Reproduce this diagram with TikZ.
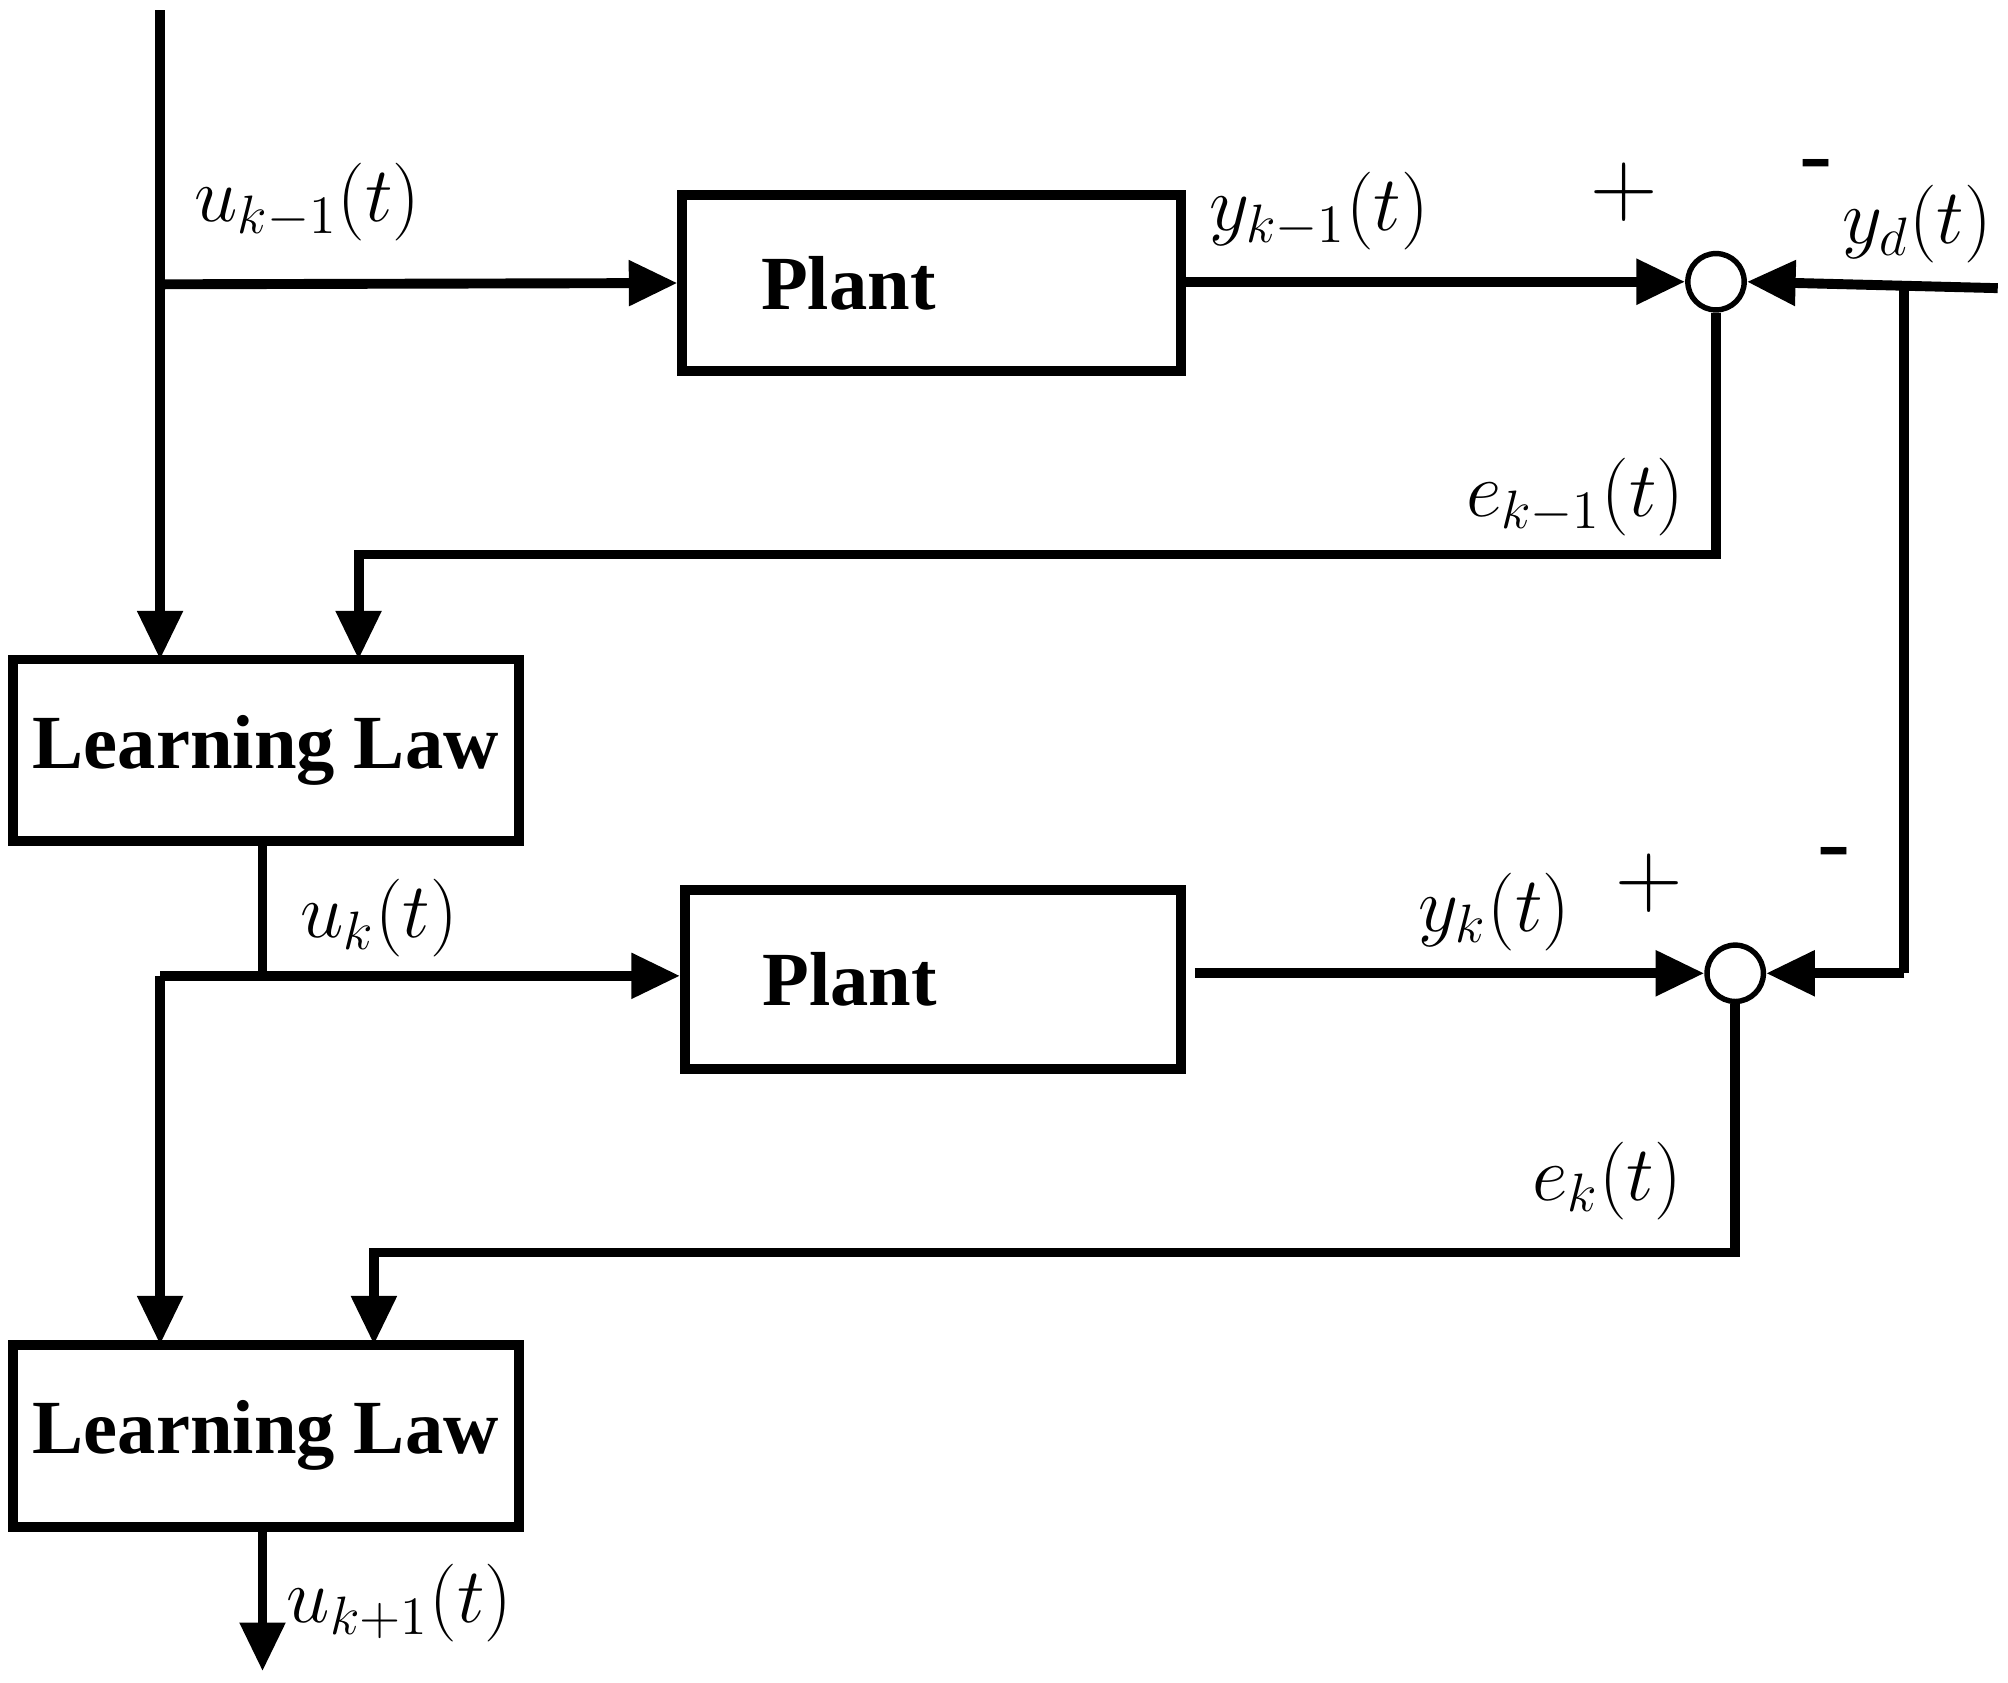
\documentclass[tikz,border=0pt]{standalone}
\usepackage{fontspec}
\setmainfont{Liberation Serif}
\usepackage{amsmath}
\usetikzlibrary{arrows.meta}
\usetikzlibrary{positioning}

\tikzset{
  blk/.style = {draw, line width=2.2pt, inner sep=0pt, font=\fontsize{17}{20}\selectfont\bfseries},
  sumc/.style = {draw, line width=1.2pt, circle, minimum size=0.44cm, inner sep=0pt},
  sig/.style = {line width=2.2pt},
  arr/.style = {sig, -{Triangle[length=0.38cm, width=0.34cm]}},
  lbl/.style = {font=\fontsize{17}{20}\selectfont},
  sgn/.style = {font=\fontsize{22}{24}\selectfont}
}

\begin{document}
\begin{tikzpicture}[x=0.01cm, y=-0.01cm]
  \useasboundingbox (0,0) rectangle (1568,1314);

  % blocks
  \node[blk, minimum width=3.89cm, minimum height=1.38cm] (p1) at (727.5,221){\hspace*{-1.3cm}Plant};
  \node[blk, minimum width=3.87cm, minimum height=1.40cm] (p2) at (728.5,765){\hspace*{-1.3cm}Plant};
  \node[blk, minimum width=3.95cm, minimum height=1.42cm] (l1) at (207.5,586){Learning Law};
  \node[blk, minimum width=3.95cm, minimum height=1.42cm] (l2) at (207.5,1121){Learning Law};
  \node[sumc] (s1) at (1340,220){};
  \node[sumc] (s2) at (1355,760){};

  % helper points
  \coordinate (top) at (125,8);
  \coordinate (b1) at (125,222);
  \coordinate (yd) at (1560,225);
  \coordinate (ydb) at (1487,225);
  \coordinate (c2) at (205,762);
  \coordinate (c2l) at (125,762);
  \coordinate (out) at (205,1305);

  % first pass
  \draw[arr] (top) -- (125,515);
  \draw[arr] (b1) -- (p1.west);
  \draw[arr] (p1.east |- s1) -- (s1.west);
  \draw[arr] (yd) -- (s1.east);
  \draw[sig] (ydb) -- (1487,760);
  \draw[arr] (1487,760) -- (s2.east);
  \draw[arr] (s1.south) -- (1340,433) -- (280,433) -- (280,515);

  % second pass
  \draw[sig] (l1.south -| c2) -- (c2) -- (c2l);
  \draw[arr] (c2l) -- (p2.west |- c2l);
  \draw[arr] (c2l) -- (125,1050);
  \draw[arr] (933,760) -- (s2.west);
  \draw[arr] (s2.south) -- (1355,978) -- (292,978) -- (292,1050);
  \draw[arr] (l2.south -| out) -- (out);

  % labels
  \node[lbl] (lu1) at (240,158){$u_{k-1}(t)$};
  \node[lbl] (ly1) at (1030,165){$y_{k-1}(t)$};
  \node[sgn] (pl1) at (1268,150){$+$};
  \node[sgn] (mi1) at (1418,135){-};
  \node[lbl] (lyd) at (1497,175){$y_d(t)$};
  \node[lbl] (le1) at (1230,388){$e_{k-1}(t)$};
  \node[lbl] (lu2) at (296,717){$u_k(t)$};
  \node[lbl] (ly2) at (1167,712){$y_k(t)$};
  \node[sgn] (pl2) at (1288,690){$+$};
  \node[sgn] (mi2) at (1432,672){-};
  \node[lbl] (le2) at (1255,922){$e_k(t)$};
  \node[lbl] (lu3) at (312,1252){$u_{k+1}(t)$};
\end{tikzpicture}
\end{document}
